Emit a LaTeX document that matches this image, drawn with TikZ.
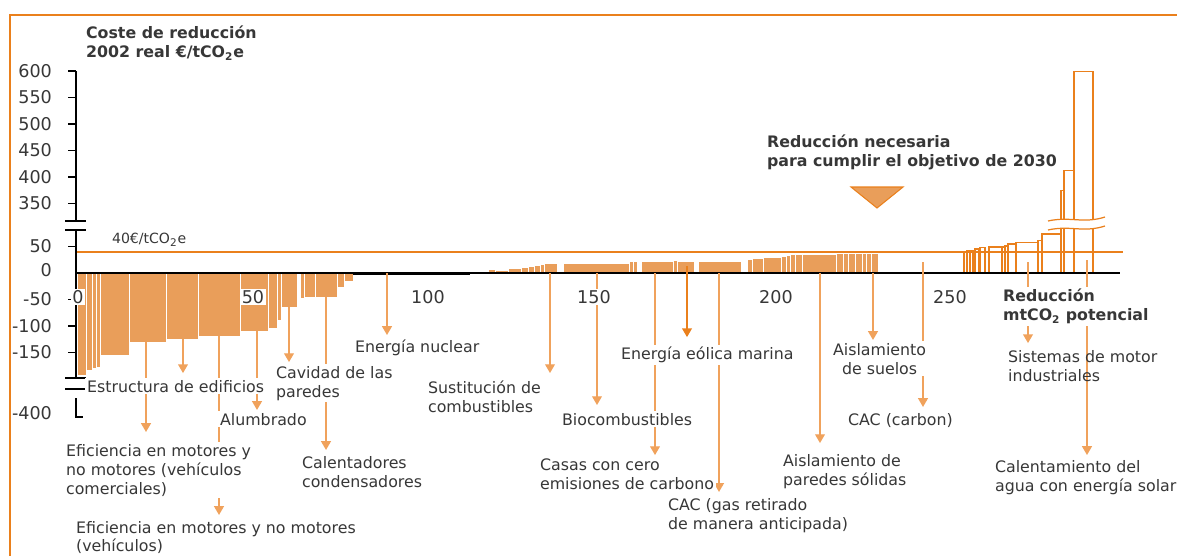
\documentclass[tikz,border=0pt]{standalone}
\usepackage{fontspec}
\setmainfont{DejaVu Sans}
\usetikzlibrary{positioning}
\usetikzlibrary{arrows.meta}
\definecolor{barfill}{RGB}{233,158,90}
\definecolor{lineor}{RGB}{234,128,28}
\definecolor{arrowor}{RGB}{240,162,92}
\definecolor{txt}{RGB}{55,55,55}
\pgfdeclarelayer{barlayer}
\pgfdeclarelayer{arrowlayer}
\pgfsetlayers{barlayer,arrowlayer,main}

\begin{document}
\begin{tikzpicture}[x=0.02cm, y=-0.02cm,
    lbl/.style={anchor=north west, fill=white, inner sep=1pt, align=left, text=txt, font=\fontsize{9}{10.8}\selectfont},
    ttl/.style={anchor=north west, inner sep=1pt, align=left, text=txt, font=\bfseries\fontsize{9}{10.8}\selectfont},
    num/.style={text=txt, inner sep=1pt, font=\fontsize{10}{12}\selectfont},
    arr/.style={draw=arrowor, line width=0.8pt, -{Triangle[width=5.6pt,length=5pt]}},
    barbox/.style={fill=barfill, draw=white, line width=0.5pt},
    outbar/.style={draw=lineor, line width=0.7pt}]
  \useasboundingbox (0,0) rectangle (1177,556);

  \begin{pgfonlayer}{barlayer}
    \draw[lineor, line width=0.9pt] (10,556) -- (10,15) -- (1177,15);

    % bars below zero
    \foreach \a/\b/\c in {77/86/375, 86/92/370, 92/96/368, 96/100/367, 100/129/355, 129/166/342,
        166/198/339, 198/240/336, 240/268/331, 268/277/328, 277/281/320, 281/297.5/307,
        300.5/304/298, 304/315/297, 315/337/297, 337/344/287, 344/353/281}
      \path[barbox] (\a,273) rectangle (\b,\c);
    \draw[line width=1.6pt] (353,274) -- (470,274);

    % bars above zero
    \foreach \a/\b/\c in {488/495/269.5, 495/508/270, 508/521/268, 521/528/267, 528/534/266.5,
        534/540/265, 540/544/264, 544/557/263, 563/629/263, 629/633/261.5, 633/637/261.5,
        641/673/261.5, 673/677/260, 677/694/261, 698/741/261.5, 747/752/259, 752/763/258.5,
        763/781/257, 781/786/256, 786/790/255, 790/795/254.5, 795/802/254.5, 802/836/254,
        836/843/253, 843/848/253, 848/855/253, 855/862/253, 862/866/253, 866/871/253, 871/878/253}
      \path[barbox] (\a,273) rectangle (\b,\c);

    % costly options, outlined
    \foreach \a/\b/\c in {964/967/252.5, 967/970/250.5, 970/973/250.5, 975/979/249, 980/985/247.5,
        989/1002/247, 1002/1005/247, 1005/1008/246, 1008/1016/244, 1016/1038/242.3,
        1038/1042/240.7, 1042/1061/234, 1061/1064/190.7, 1064/1074/170.7, 1074/1093/71.7}
      \draw[outbar] (\a,273) rectangle (\b,\c);
    \fill[white] (1048,221) .. controls (1070,216) and (1083,224) .. (1105,217)
      -- (1105,226) .. controls (1083,233) and (1070,225) .. (1048,230) -- cycle;
    \draw[lineor, line width=0.7pt] (1048,221) .. controls (1070,216) and (1083,224) .. (1105,217);
    \draw[lineor, line width=0.7pt] (1048,230) .. controls (1070,225) and (1083,233) .. (1105,226);

    % axes
    \draw[line width=0.8pt] (76,273) -- (1120,273);
    \draw[lineor, line width=0.8pt] (76,252) -- (1123,252);
    \draw[line width=0.7pt] (76,71) -- (76,221);
    \draw[line width=0.7pt] (65,221) -- (86,221);
    \draw[line width=0.7pt] (65,230) -- (86,230);
    \draw[line width=0.7pt] (76,230) -- (76,378);
    \draw[line width=0.7pt] (65,378) -- (86,378);
    \draw[line width=0.7pt] (65,389) -- (86,389);
    \draw[line width=0.7pt] (76,398) -- (76,417) -- (83,417);
    \foreach \y in {71,97.5,124,150.5,177,203.5,246.5,299.5,326,352.5}
      \draw[line width=0.7pt] (68,\y) -- (76,\y);
  \end{pgfonlayer}

  % axis numbers
  \foreach \v/\y in {600/71, 550/97.5, 500/124, 450/150.5, 400/177, 350/203.5, 50/246.5,
      0/270, -50/299.5, -100/326, -150/352.5, -400/413}
    \node[num, anchor=east] (ylab\v) at (54,\y) {\v};

  % titles
  \node[ttl] (costTitle) at (84,24) {Coste de reducción\\2002 real €/tCO\textsubscript{2}e};
  \node[ttl] (goalTitle) at (765,133) {Reducción necesaria\\para cumplir el objetivo de 2030};
  \node[ttl, fill=white] (potTitle) at (1001,287) {Reducción\\mtCO\textsubscript{2} potencial};
  \node[anchor=west, inner sep=1pt, text=txt, font=\fontsize{8}{10}\selectfont] (priceLbl) at (110,240) {40€/tCO\textsubscript{2}e};
  \filldraw[draw=lineor, fill=barfill, line width=0.6pt] (851,187) -- (903,187) -- (877,208) -- cycle;

  % option labels
  \node[lbl] (estructura) at (85,378) {Estructura de edificios};
  \node[lbl] (eficComerc) at (64,442) {Eficiencia en motores y\\no motores (vehículos\\comerciales)};
  \node[lbl, font=\fontsize{9}{10.3}\selectfont] (eficVeh) at (74,519) {Eficiencia en motores y no motores\\(vehículos)};
  \node[lbl] (alumbrado) at (218,411) {Alumbrado};
  \node[lbl] (cavidad) at (274,364) {Cavidad de las\\paredes};
  \node[lbl] (calentadores) at (300,454) {Calentadores\\condensadores};
  \node[lbl] (nuclear) at (353,338) {Energía nuclear};
  \node[lbl] (sustitucion) at (426,379) {Sustitución de\\combustibles};
  \node[lbl] (biocomb) at (560,411) {Biocombustibles};
  \node[lbl] (casas) at (538,457) {Casas con cero\\emisiones de carbono};
  \node[lbl] (eolica) at (619,345) {Energía eólica marina};
  \node[lbl] (cacGas) at (666,496) {CAC (gas retirado\\de manera anticipada)};
  \node[lbl] (paredesSol) at (781,452) {Aislamiento de\\paredes sólidas};
  \node[lbl, align=center] (suelos) at (831,341) {Aislamiento\\de suelos};
  \node[lbl] (cacCarbon) at (846,411) {CAC (carbon)};
  \node[lbl, fill=none] (sistemas) at (1006,348) {Sistemas de motor\\industriales};
  \node[lbl] (calentamiento) at (993,458) {Calentamiento del\\agua con energía solar};

  \foreach \v/\x in {0/78, 50/253, 100/428, 150/594, 200/776, 250/950}
    \node[num, fill=white] (xlab\v) at (\x,297) {\v};

  % arrows
  \coordinate (aEstructura) at (183,339);
  \coordinate (aEficComerc) at (146,342);
  \coordinate (aEficVeh) at (219,336);
  \coordinate (aAlumbrado) at (257,331);
  \coordinate (aCavidad) at (289,307);
  \coordinate (aCalentadores) at (326,297);
  \coordinate (aNuclear) at (387,273);
  \coordinate (aSustitucion) at (550,273);
  \coordinate (aBiocomb) at (597,273);
  \coordinate (aCasas) at (655,273);
  \coordinate (aEolica) at (687,266);
  \coordinate (aCacGas) at (719,273);
  \coordinate (aParedesSol) at (820,273);
  \coordinate (aSuelos) at (873,273);
  \coordinate (aCacCarbon) at (923,262);
  \coordinate (aSistemas) at (1028,262);
  \coordinate (aCalentamiento) at (1087,260);
  \begin{pgfonlayer}{arrowlayer}
    \draw[arr, shorten >=2.8pt] (aEstructura) -- (aEstructura |- estructura.north);
    \draw[arr, shorten >=5.7pt] (aEficComerc) -- (aEficComerc |- eficComerc.north);
    \draw[arr, shorten >=2.3pt] (aEficVeh) -- (aEficVeh |- eficVeh.north);
    \draw[arr, shorten >=0.6pt] (aAlumbrado) -- (aAlumbrado |- alumbrado.north);
    \draw[arr, shorten >=1.1pt] (aCavidad) -- (aCavidad |- cavidad.north);
    \draw[arr, shorten >=2.3pt] (aCalentadores) -- (aCalentadores |- calentadores.north);
    \draw[arr, shorten >=1.7pt] (aNuclear) -- (aNuclear |- nuclear.north);
    \draw[arr, shorten >=3.4pt] (aSustitucion) -- (aSustitucion |- sustitucion.north);
    \draw[arr, shorten >=3.4pt] (aBiocomb) -- (aBiocomb |- biocomb.north);
    \draw[arr, shorten >=1.1pt] (aCasas) -- (aCasas |- casas.north);
    \draw[arr, draw=lineor, shorten >=4.5pt] (aEolica) -- (aEolica |- eolica.north);
    \draw[arr, shorten >=2.3pt] (aCacGas) -- (aCacGas |- cacGas.north);
    \draw[arr, shorten >=5.1pt] (aParedesSol) -- (aParedesSol |- paredesSol.north);
    \draw[arr, shorten >=0.6pt] (aSuelos) -- (aSuelos |- suelos.north);
    \draw[arr, shorten >=2.3pt] (aCacCarbon) -- (aCacCarbon |- cacCarbon.north);
    \draw[arr, shorten >=2.8pt] (aSistemas) -- (aSistemas |- sistemas.north);
    \draw[arr, shorten >=1.7pt] (aCalentamiento) -- (aCalentamiento |- calentamiento.north);
  \end{pgfonlayer}
\end{tikzpicture}
\end{document}
